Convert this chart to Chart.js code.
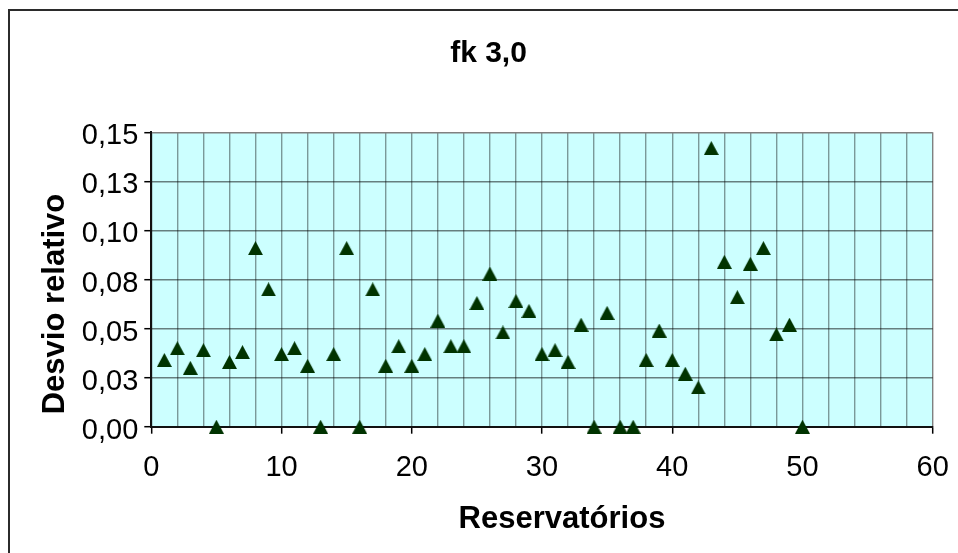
<!DOCTYPE html>
<html lang="pt">
<head>
<meta charset="utf-8">
<title>fk 3,0</title>
<script src="https://cdn.jsdelivr.net/npm/chart.js@4.4.1/dist/chart.umd.min.js"></script>
<style>
  html, body { margin: 0; padding: 0; background: #fff; overflow: hidden; }
  #wrap { position: relative; width: 958px; height: 553px; }
</style>
</head>
<body>
<div id="wrap"><canvas id="chart" width="958" height="553"></canvas></div>
<script>
// Reservatório number and relative deviation for each reservoir
const reservatorios = [
   1,  2,  3,  4,  5,  6,  7,  8,  9, 10,
  11, 12, 13, 14, 15, 16, 17, 18, 19, 20,
  21, 22, 23, 24, 25, 26, 27, 28, 29, 30,
  31, 32, 33, 34, 35, 36, 37, 38, 39, 40,
  41, 42, 43, 44, 45, 46, 47, 48, 49, 50
];
const desvioRelativo = [
  0.034, 0.040, 0.030, 0.039, 0.000, 0.033, 0.038, 0.091, 0.070, 0.037,
  0.040, 0.031, 0.000, 0.037, 0.091, 0.000, 0.070, 0.031, 0.041, 0.031,
  0.037, 0.054, 0.041, 0.041, 0.063, 0.078, 0.048, 0.064, 0.059, 0.037,
  0.039, 0.033, 0.052, 0.000, 0.058, 0.000, 0.000, 0.034, 0.049, 0.034,
  0.027, 0.020, 0.142, 0.084, 0.066, 0.083, 0.091, 0.047, 0.052, 0.000
];

// Axis labelling
const xTickLabels = ['0', '10', '20', '30', '40', '50', '60'];
const yTickLabels = ['0,00', '0,03', '0,05', '0,08', '0,10', '0,13', '0,15'];
const chartTitle = 'fk 3,0';
const xTitle = 'Reservatórios';
const yTitle = 'Desvio relativo';

const FONT = '"Liberation Sans", Arial, Helvetica, sans-serif';

// Solid triangle marker, centred on its bounding box
const marker = document.createElement('canvas');
marker.width = 15;
marker.height = 14;
(function () {
  const c = marker.getContext('2d');
  c.fillStyle = '#003300';
  c.beginPath();
  c.moveTo(7.5, 0);
  c.lineTo(15, 14);
  c.lineTo(0, 14);
  c.closePath();
  c.fill();
})();

const points = reservatorios.map((x, i) => ({ x: x, y: desvioRelativo[i] }));

// Frame, plot background and free-standing titles
const decor = {
  id: 'decor',
  beforeDraw(chart) {
    const { ctx, chartArea: a } = chart;
    ctx.save();
    ctx.fillStyle = '#ffffff';
    ctx.fillRect(0, 0, chart.width, chart.height);
    ctx.strokeStyle = '#2b2b2b';
    ctx.lineWidth = 2;
    ctx.strokeRect(9, 10, 1000, 600);
    ctx.fillStyle = '#ccffff';
    ctx.fillRect(a.left, a.top, a.right - a.left, a.bottom - a.top);
    ctx.restore();
  },
  afterDraw(chart) {
    const { ctx } = chart;
    ctx.save();
    ctx.fillStyle = '#000';
    ctx.textAlign = 'center';
    ctx.textBaseline = 'alphabetic';
    ctx.font = 'bold 30px ' + FONT;
    ctx.fillText(chartTitle, 488.5, 62);
    ctx.font = 'bold 31px ' + FONT;
    ctx.fillText(xTitle, 562, 527.5);
    ctx.translate(55, 304);
    ctx.rotate(-Math.PI / 2);
    ctx.textBaseline = 'middle';
    ctx.fillText(yTitle, 0, 0);
    ctx.restore();
  }
};

new Chart(document.getElementById('chart'), {
  type: 'scatter',
  data: {
    datasets: [{
      data: points,
      pointStyle: marker,
      pointRadius: 7,
      pointHoverRadius: 7,
      showLine: false,
      clip: false
    }]
  },
  options: {
    responsive: false,
    animation: false,
    events: [],
    layout: { padding: { top: 132.3, right: 25.3, bottom: 0, left: 0 } },
    plugins: {
      legend: { display: false },
      title: { display: false },
      tooltip: { enabled: false }
    },
    scales: {
      x: {
        type: 'linear',
        min: 0,
        max: 60,
        afterFit(s) { s.height = 126.3; s.paddingLeft = 0; s.paddingRight = 0; },
        ticks: {
          stepSize: 2,
          autoSkip: false,
          maxRotation: 0,
          padding: 17,
          color: '#000',
          font: { family: FONT, size: 29 },
          callback(v) { return v % 10 === 0 ? xTickLabels[v / 10] : ''; }
        },
        grid: {
          color(c) { return c.tick && c.tick.value === 60 ? '#808080' : 'rgba(0,0,0,0.4)'; },
          lineWidth: 1.4,
          tickLength: 7,
          tickWidth: 1.5,
          tickColor(c) { return c.tick && c.tick.value % 10 === 0 ? '#000' : 'rgba(0,0,0,0)'; }
        },
        border: { color: '#111', width: 2 }
      },
      y: {
        type: 'linear',
        min: 0,
        max: 0.15,
        afterFit(s) { s.width = 151.3; s.paddingTop = 0; s.paddingBottom = 0; },
        ticks: {
          stepSize: 0.025,
          padding: 6,
          labelOffset: 4,
          color: '#000',
          font: { family: FONT, size: 29 },
          callback(v, i) { return yTickLabels[i]; }
        },
        grid: {
          color(c) { return c.index === 6 ? '#808080' : 'rgba(0,0,0,0.5)'; },
          lineWidth: 1.4,
          tickLength: 7,
          tickWidth: 1.5,
          tickColor: '#000'
        },
        border: { color: '#111', width: 2 }
      }
    }
  },
  plugins: [decor]
});
</script>
</body>
</html>
